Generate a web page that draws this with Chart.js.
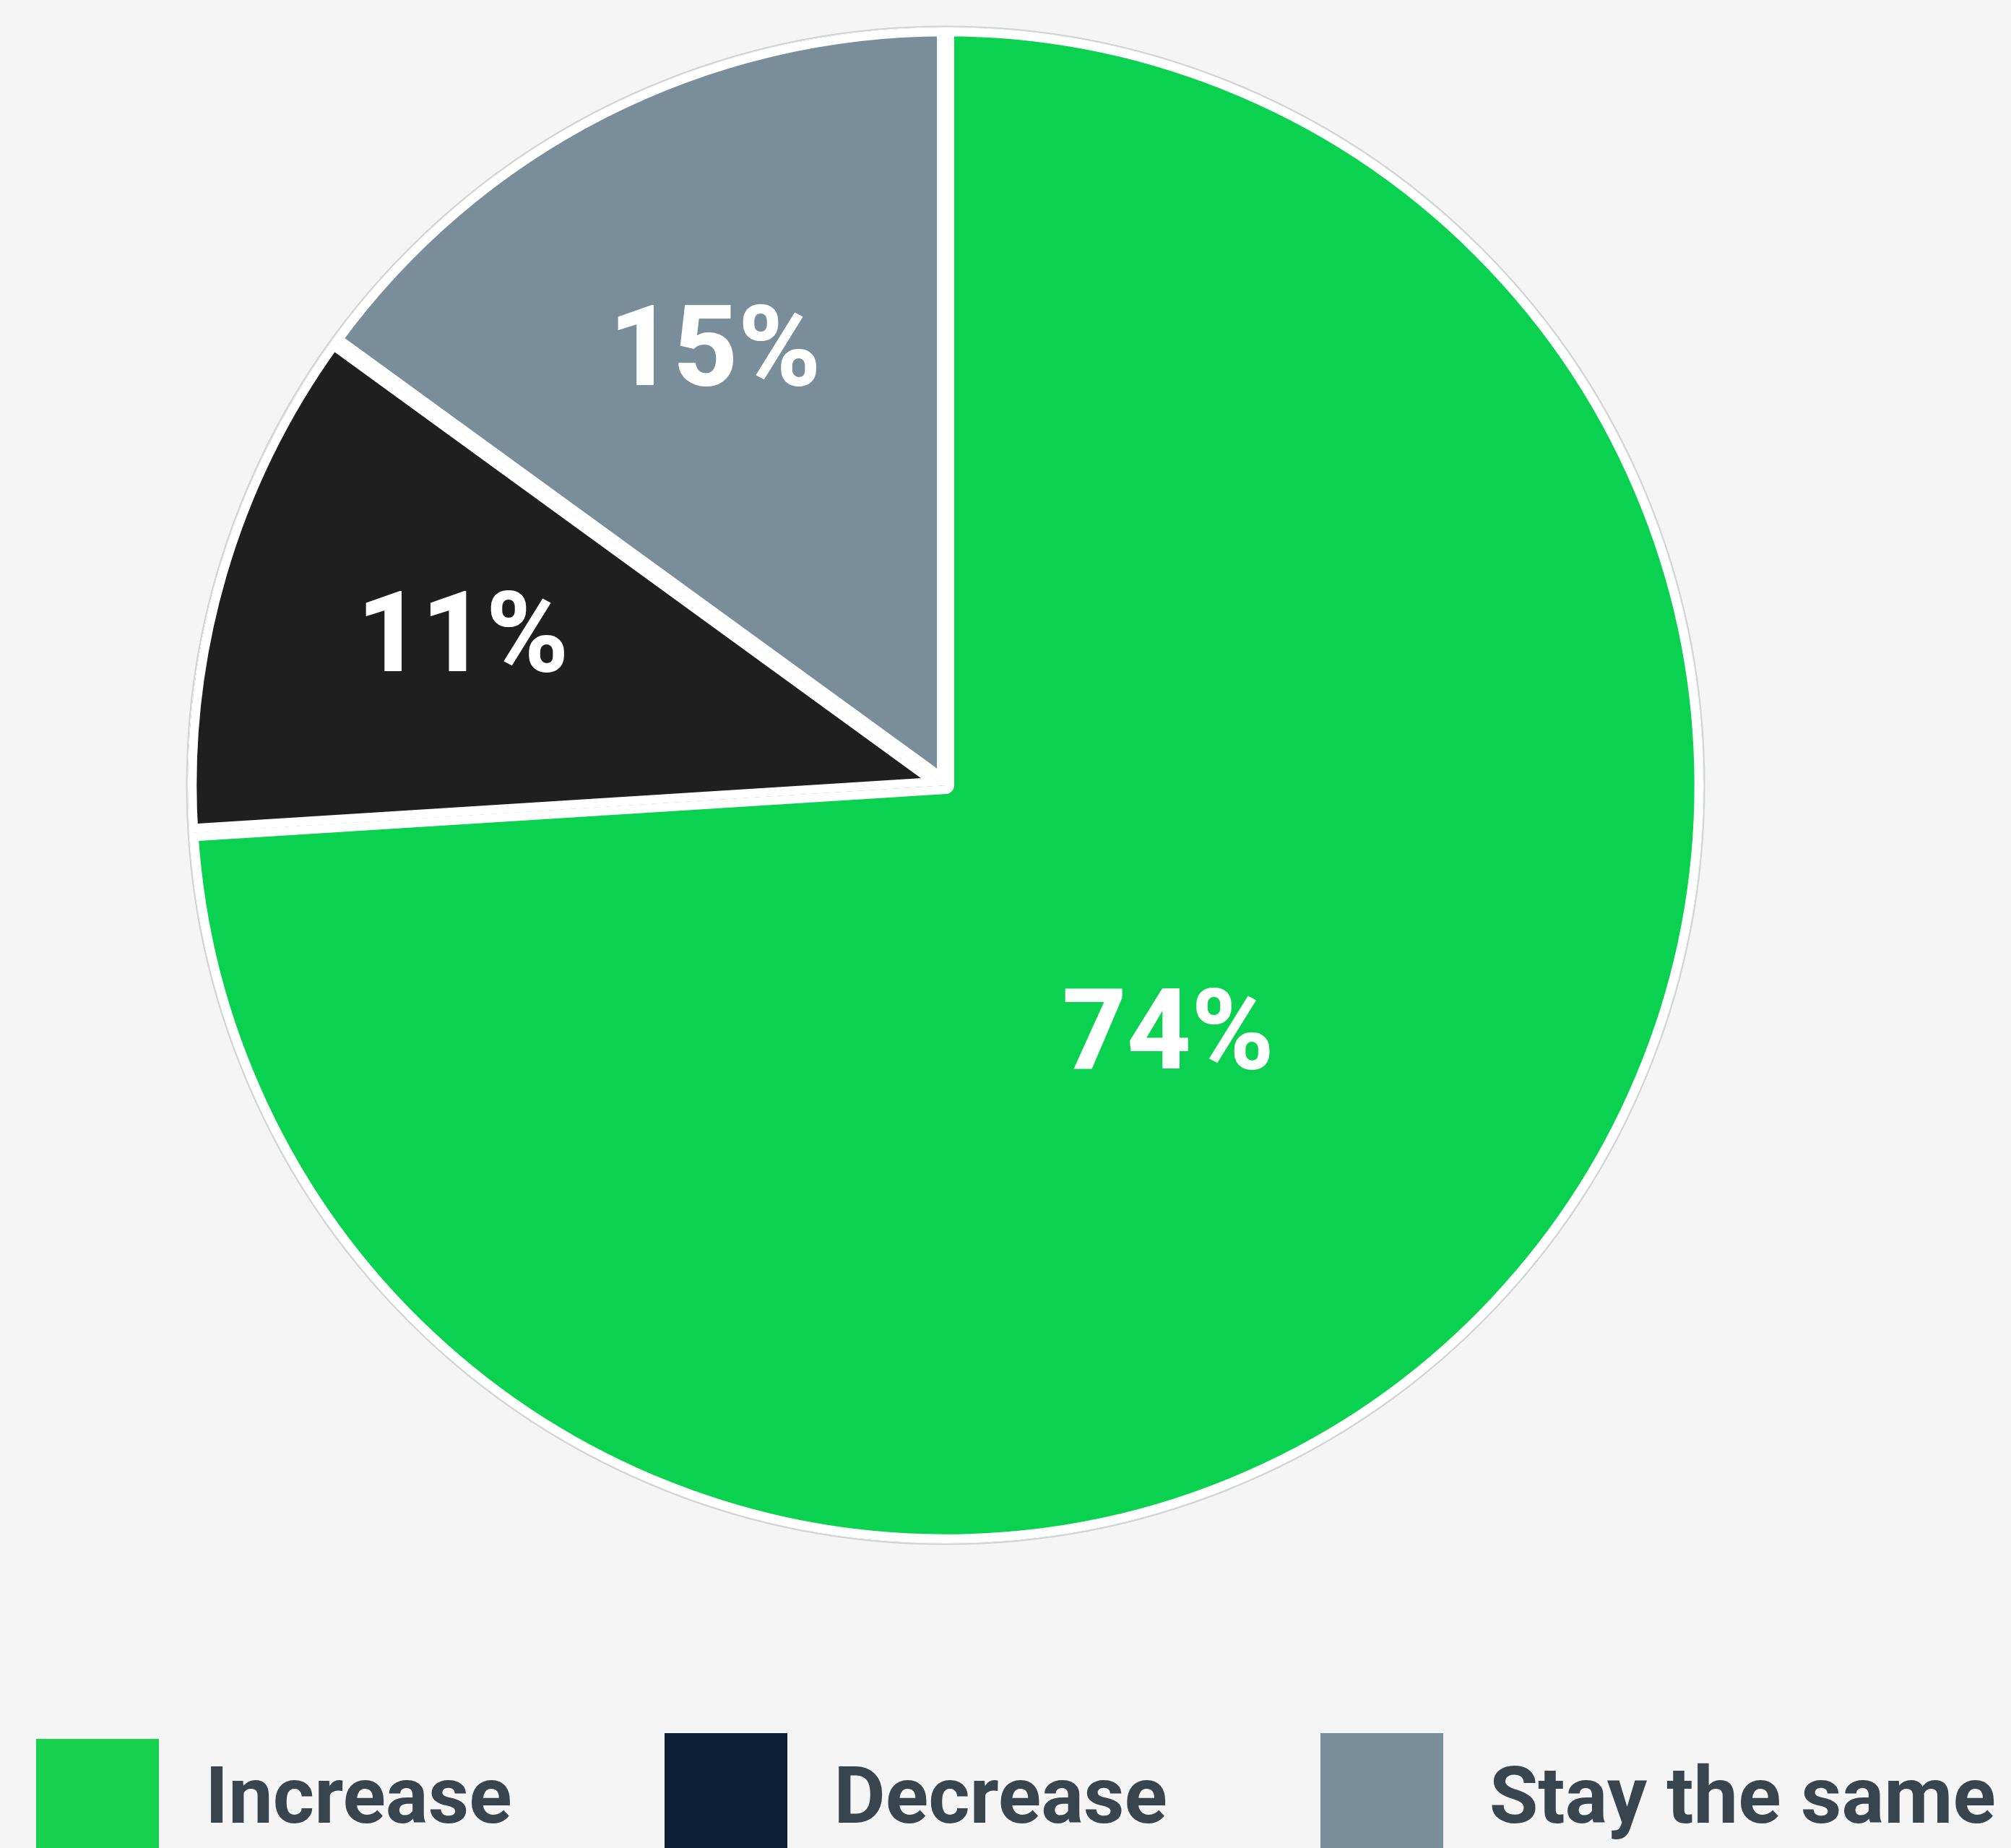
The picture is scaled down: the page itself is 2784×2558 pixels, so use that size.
<!DOCTYPE html>
<html>
<head>
<meta charset="utf-8">
<script src="https://cdn.jsdelivr.net/npm/chart.js"></script>
<style>
  html, body { margin: 0; padding: 0; background: #f5f5f5; overflow: hidden; }
  #wrap { position: relative; width: 2784px; height: 2558px; overflow: hidden; }
  #chart { position: absolute; left: 0; top: 0; }
  #legend {
    position: absolute; left: 50px; right: 21px; top: 2399px;
    display: flex; justify-content: space-between; align-items: flex-start;
    font-family: Roboto, sans-serif; font-weight: 700; font-size: 110px; line-height: 110px;
    color: #38454f;
  }
  #legend .item { display: flex; align-items: flex-start; }
  #legend .box { width: 170px; height: 190px; }
  #legend .txt { margin-left: 64px; margin-top: 32px; white-space: nowrap; }
</style>
</head>
<body>
<div id="wrap">
  <canvas id="chart" width="2784" height="2558"></canvas>
  <div id="legend"></div>
</div>
<script>
// data
const categories = ['Increase', 'Decrease', 'Stay the same'];
const shares = [74, 11, 15];
const shareLabels = ['74%', '11%', '15%'];

// styles
const sliceColors = ['#0bd150', '#1f1f1f', '#7a8d9b'];
const legendColors = ['#16d24f', '#0a1f33', '#798e9b'];
const labelDistance = [0.447, 0.664, 0.642]; // fraction of radius for the value text
const labelTurn = [5.7, 0.2, -1.3];          // small angle nudge, degrees

const pieLabels = {
  id: 'pieLabels',
  beforeDatasetsDraw(chart) {
    // faint outline around the pie
    const arc = chart.getDatasetMeta(0).data[0];
    if (!arc) return;
    const ctx = chart.ctx;
    ctx.save();
    ctx.beginPath();
    ctx.arc(arc.x, arc.y, arc.outerRadius + 1.5, 0, Math.PI * 2);
    ctx.strokeStyle = 'rgba(0,0,0,0.14)';
    ctx.lineWidth = 2;
    ctx.stroke();
    ctx.restore();
  },
  afterDatasetsDraw(chart) {
    const ctx = chart.ctx;
    ctx.save();
    ctx.fillStyle = '#ffffff';
    ctx.font = '800 155px Roboto';
    ctx.textAlign = 'center';
    ctx.textBaseline = 'middle';
    chart.getDatasetMeta(0).data.forEach((a, i) => {
      const mid = (a.startAngle + a.endAngle) / 2 + labelTurn[i] * Math.PI / 180;
      const r = a.outerRadius * labelDistance[i];
      ctx.fillText(shareLabels[i], a.x + Math.cos(mid) * r, a.y + Math.sin(mid) * r);
    });
    ctx.restore();
  }
};

new Chart(document.getElementById('chart'), {
  type: 'pie',
  data: {
    labels: categories,
    datasets: [{
      data: shares,
      backgroundColor: sliceColors,
      borderColor: '#ffffff',
      borderWidth: 12,
      borderAlign: 'inner',
      hoverOffset: 0
    }]
  },
  options: {
    responsive: false,
    animation: false,
    devicePixelRatio: 1,
    layout: { padding: { left: 0, right: 166, top: 38, bottom: 422 } },
    plugins: {
      tooltip: { enabled: false },
      legend: { display: false }
    }
  },
  plugins: [pieLabels]
});

// legend built from the same arrays
const legend = document.getElementById('legend');
categories.forEach((c, i) => {
  const item = document.createElement('div');
  item.className = 'item';
  const box = document.createElement('div');
  box.className = 'box';
  box.style.background = legendColors[i];
  if (i === 0) box.style.marginTop = '8px';
  const txt = document.createElement('span');
  txt.className = 'txt';
  txt.textContent = c;
  item.appendChild(box);
  item.appendChild(txt);
  legend.appendChild(item);
});
</script>
</body>
</html>
